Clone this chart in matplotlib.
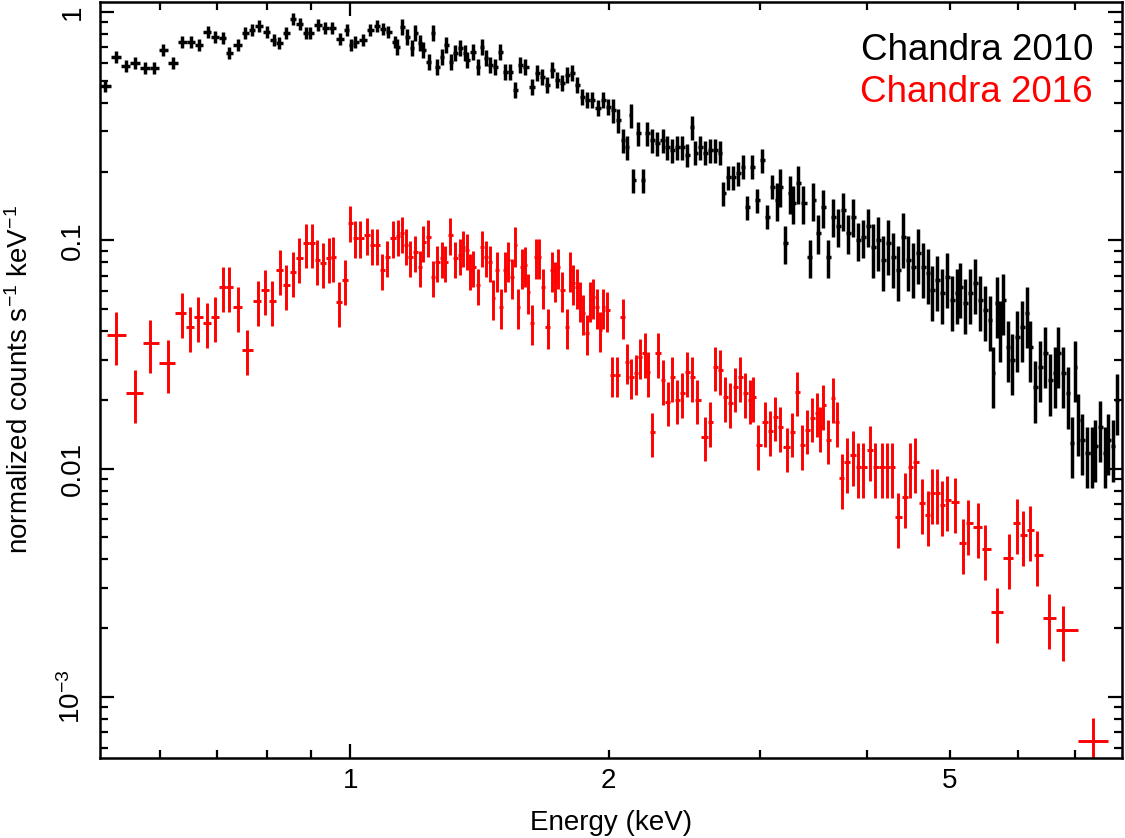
import numpy as np
import matplotlib
matplotlib.use('Agg')
import matplotlib.pyplot as plt
from matplotlib.ticker import FixedLocator, FixedFormatter, FuncFormatter

# Chandra 2010 spectrum: bin energy (keV), normalized counts, relative error
black_e = [0.518, 0.534, 0.548, 0.561, 0.577, 0.591, 0.605, 0.622, 0.637, 0.653,
           0.667, 0.682, 0.696, 0.710, 0.723, 0.739, 0.755, 0.769, 0.782, 0.799,
           0.814, 0.827, 0.842, 0.858, 0.873, 0.887, 0.898, 0.918, 0.935, 0.953,
           0.973, 0.992, 1.003, 1.013, 1.035, 1.055, 1.075, 1.092, 1.107, 1.128,
           1.134, 1.150, 1.166, 1.181, 1.191, 1.207, 1.216, 1.236, 1.249, 1.263,
           1.280, 1.294, 1.311, 1.325, 1.343, 1.361, 1.369, 1.391, 1.410, 1.424,
           1.440, 1.456, 1.475, 1.495, 1.515, 1.536, 1.557, 1.578, 1.599, 1.630,
           1.651, 1.673, 1.696, 1.719, 1.742, 1.766, 1.790, 1.814, 1.839, 1.863,
           1.889, 1.914, 1.945, 1.972, 1.999, 2.025, 2.053, 2.080, 2.103, 2.125,
           2.136, 2.165, 2.195, 2.218, 2.248, 2.278, 2.316, 2.341, 2.373, 2.405,
           2.437, 2.470, 2.503, 2.524, 2.557, 2.592, 2.627, 2.662, 2.698, 2.720,
           2.756, 2.794, 2.832, 2.870, 2.901, 2.940, 2.980, 3.020, 3.061, 3.103,
           3.145, 3.169, 3.212, 3.256, 3.282, 3.327, 3.371, 3.435, 3.463, 3.510,
           3.557, 3.605, 3.653, 3.703, 3.753, 3.804, 3.855, 3.907, 3.960, 4.013,
           4.068, 4.123, 4.179, 4.235, 4.291, 4.349, 4.408, 4.468, 4.528, 4.589,
           4.651, 4.714, 4.766, 4.830, 4.895, 4.961, 5.028, 5.096, 5.137, 5.206,
           5.277, 5.348, 5.420, 5.493, 5.568, 5.613, 5.674, 5.719, 5.765, 5.843,
           5.907, 5.987, 6.068, 6.150, 6.199, 6.283, 6.367, 6.453, 6.541, 6.629,
           6.682, 6.772, 6.864, 6.938, 6.994, 7.051, 7.127, 7.224, 7.321, 7.380,
           7.480, 7.581, 7.642, 7.745, 7.829]
black_y = [0.474, 0.636, 0.580, 0.598, 0.569, 0.569, 0.682, 0.598, 0.739, 0.739,
           0.717, 0.817, 0.777, 0.769, 0.662, 0.717, 0.809, 0.834, 0.869, 0.817,
           0.754, 0.732, 0.809, 0.932, 0.886, 0.809, 0.809, 0.878, 0.851, 0.851,
           0.762, 0.834, 0.717, 0.739, 0.754, 0.834, 0.869, 0.842, 0.817, 0.739,
           0.703, 0.860, 0.777, 0.696, 0.809, 0.732, 0.682, 0.604, 0.809, 0.574,
           0.636, 0.717, 0.604, 0.662, 0.696, 0.662, 0.616, 0.668, 0.574, 0.703,
           0.630, 0.586, 0.574, 0.668, 0.546, 0.546, 0.456, 0.586, 0.574, 0.470,
           0.540, 0.519, 0.479, 0.557, 0.504, 0.489, 0.530, 0.540, 0.479, 0.425,
           0.412, 0.412, 0.380, 0.412, 0.384, 0.372, 0.337, 0.275, 0.256, 0.354,
           0.184, 0.295, 0.184, 0.295, 0.275, 0.267, 0.275, 0.256, 0.249, 0.256,
           0.256, 0.237, 0.314, 0.242, 0.256, 0.242, 0.249, 0.249, 0.242, 0.161,
           0.189, 0.189, 0.197, 0.210, 0.140, 0.210, 0.150, 0.225, 0.127, 0.172,
           0.150, 0.172, 0.097, 0.161, 0.146, 0.178, 0.146, 0.0845, 0.150, 0.108,
           0.140, 0.0845, 0.127, 0.115, 0.136, 0.108, 0.127, 0.100, 0.1035, 0.115,
           0.0932, 0.100, 0.0819, 0.097, 0.0845, 0.0740, 0.1035, 0.0819, 0.0763, 0.0879,
           0.0763, 0.0718, 0.0605, 0.0669, 0.0587, 0.0690, 0.0547, 0.0587, 0.0624, 0.0531,
           0.0587, 0.0649, 0.0547, 0.0495, 0.0447, 0.0262, 0.0531, 0.0417, 0.0547, 0.0341,
           0.0299, 0.0377, 0.0417, 0.0480, 0.0341, 0.0227, 0.0279, 0.0321, 0.0244, 0.0262,
           0.0321, 0.0262, 0.0214, 0.0130, 0.0279, 0.0163, 0.0134, 0.0117, 0.0117, 0.0125,
           0.0152, 0.0117, 0.0134, 0.0125, 0.0200]
black_err = [0.06, 0.06, 0.06, 0.06, 0.06, 0.06, 0.06, 0.06, 0.06, 0.06,
             0.06, 0.06, 0.06, 0.06, 0.06, 0.06, 0.06, 0.06, 0.06, 0.06,
             0.06, 0.06, 0.06, 0.06, 0.06, 0.06, 0.06, 0.06, 0.06, 0.06,
             0.06, 0.06, 0.06, 0.06, 0.06, 0.06, 0.06, 0.06, 0.06, 0.06,
             0.08, 0.08, 0.08, 0.08, 0.08, 0.08, 0.08, 0.08, 0.08, 0.08,
             0.08, 0.08, 0.08, 0.08, 0.08, 0.08, 0.08, 0.08, 0.08, 0.08,
             0.08, 0.08, 0.08, 0.08, 0.08, 0.08, 0.08, 0.08, 0.08, 0.08,
             0.08, 0.08, 0.08, 0.08, 0.08, 0.08, 0.08, 0.08, 0.08, 0.08,
             0.08, 0.08, 0.08, 0.08, 0.08, 0.12, 0.12, 0.12, 0.12, 0.12,
             0.12, 0.12, 0.12, 0.12, 0.12, 0.12, 0.12, 0.12, 0.12, 0.12,
             0.12, 0.12, 0.12, 0.12, 0.12, 0.12, 0.12, 0.12, 0.12, 0.12,
             0.12, 0.12, 0.12, 0.12, 0.12, 0.12, 0.12, 0.12, 0.12, 0.12,
             0.19, 0.19, 0.19, 0.19, 0.19, 0.19, 0.19, 0.19, 0.19, 0.19,
             0.19, 0.19, 0.19, 0.19, 0.19, 0.19, 0.19, 0.19, 0.19, 0.19,
             0.27, 0.27, 0.27, 0.27, 0.27, 0.27, 0.27, 0.27, 0.27, 0.27,
             0.27, 0.27, 0.27, 0.27, 0.27, 0.27, 0.27, 0.27, 0.27, 0.27,
             0.27, 0.27, 0.27, 0.27, 0.27, 0.30, 0.30, 0.30, 0.30, 0.30,
             0.30, 0.30, 0.30, 0.30, 0.30, 0.30, 0.30, 0.30, 0.30, 0.30,
             0.30, 0.30, 0.30, 0.30, 0.30, 0.30, 0.30, 0.30, 0.30, 0.30,
             0.30, 0.30, 0.30, 0.30, 0.30]

# Chandra 2016 spectrum
red_e = [0.534, 0.561, 0.585, 0.614, 0.637, 0.651, 0.665, 0.681, 0.696, 0.710,
         0.723, 0.739, 0.759, 0.780, 0.796, 0.811, 0.829, 0.842, 0.858, 0.872,
         0.889, 0.903, 0.915, 0.930, 0.945, 0.955, 0.971, 0.987, 1.000, 1.013,
         1.027, 1.046, 1.061, 1.075, 1.090, 1.104, 1.122, 1.137, 1.150, 1.160,
         1.175, 1.191, 1.207, 1.216, 1.233, 1.249, 1.263, 1.280, 1.290, 1.308,
         1.325, 1.343, 1.353, 1.369, 1.380, 1.391, 1.410, 1.424, 1.440, 1.456,
         1.467, 1.483, 1.499, 1.515, 1.527, 1.544, 1.557, 1.570, 1.587, 1.599,
         1.612, 1.630, 1.646, 1.659, 1.676, 1.700, 1.719, 1.733, 1.747, 1.766,
         1.790, 1.804, 1.819, 1.839, 1.853, 1.869, 1.889, 1.904, 1.919, 1.940,
         1.956, 1.972, 1.993, 2.019, 2.047, 2.080, 2.102, 2.125, 2.153, 2.177,
         2.204, 2.221, 2.249, 2.284, 2.316, 2.343, 2.373, 2.405, 2.437, 2.470,
         2.503, 2.536, 2.592, 2.627, 2.662, 2.698, 2.734, 2.772, 2.809, 2.847,
         2.886, 2.924, 2.948, 2.988, 3.045, 3.086, 3.128, 3.169, 3.227, 3.273,
         3.316, 3.361, 3.406, 3.453, 3.500, 3.528, 3.557, 3.605, 3.653, 3.687,
         3.740, 3.790, 3.855, 3.907, 3.960, 4.035, 4.090, 4.167, 4.223, 4.280,
         4.349, 4.430, 4.492, 4.553, 4.640, 4.714, 4.766, 4.830, 4.895, 4.961,
         5.069, 5.178, 5.249, 5.390, 5.493, 5.674, 5.859, 5.987, 6.084, 6.199,
         6.316, 6.523, 6.772, 7.342]
red_y = [0.0385, 0.0214, 0.0355, 0.0290, 0.0480, 0.0417, 0.0461, 0.0434, 0.0461, 0.0624,
         0.0624, 0.0510, 0.0331, 0.0542, 0.0605, 0.0542, 0.0740, 0.0636, 0.0725, 0.0836,
         0.0970, 0.0970, 0.0819, 0.0794, 0.0836, 0.0845, 0.0536, 0.0669, 0.1193, 0.1025,
         0.1025, 0.1056, 0.0951, 0.0951, 0.0740, 0.0845, 0.1025, 0.1040, 0.1077, 0.0951,
         0.0845, 0.0888, 0.0763, 0.0980, 0.1035, 0.0690, 0.0803, 0.0836, 0.0803, 0.1056,
         0.0836, 0.0862, 0.0932, 0.0906, 0.0740, 0.0763, 0.0636, 0.0932, 0.0845, 0.0803,
         0.0558, 0.0740, 0.0510, 0.0740, 0.0819, 0.0690, 0.0951, 0.0510, 0.0763, 0.0779,
         0.0593, 0.0434, 0.0845, 0.0845, 0.0624, 0.0417, 0.0740, 0.0669, 0.0763, 0.0605,
         0.0417, 0.0740, 0.0649, 0.0624, 0.0547, 0.0480, 0.0393, 0.0547, 0.0564, 0.0510,
         0.0405, 0.0510, 0.0495, 0.0257, 0.0257, 0.0461, 0.0293, 0.0252, 0.0262, 0.0308,
         0.0321, 0.0265, 0.0144, 0.0321, 0.0244, 0.0196, 0.0252, 0.0200, 0.0214, 0.0265,
         0.0252, 0.0200, 0.0138, 0.0160, 0.0279, 0.0270, 0.0206, 0.0194, 0.0227, 0.0252,
         0.0214, 0.0200, 0.0206, 0.0127, 0.0160, 0.0146, 0.0169, 0.0152, 0.0124, 0.0144,
         0.0217, 0.0127, 0.0148, 0.0167, 0.0176, 0.0152, 0.0190, 0.0134, 0.0204, 0.0160,
         0.00912, 0.0107, 0.0115, 0.0102, 0.0102, 0.0121, 0.0102, 0.0102, 0.0102, 0.0102,
         0.00615, 0.00753, 0.0102, 0.0107, 0.00708, 0.00628, 0.00784, 0.00784, 0.00694, 0.0073,
         0.00716, 0.00473, 0.00575, 0.00556, 0.00446, 0.00236, 0.00407, 0.00579, 0.00514, 0.00540,
         0.00419, 0.00222, 0.00197, 0.000639]
red_err = [0.26, 0.26, 0.26, 0.26, 0.22, 0.22, 0.22, 0.22, 0.22, 0.22,
           0.22, 0.22, 0.22, 0.22, 0.22, 0.22, 0.22, 0.22, 0.22, 0.22,
           0.22, 0.22, 0.22, 0.22, 0.22, 0.22, 0.22, 0.22, 0.18, 0.18,
           0.18, 0.18, 0.18, 0.18, 0.18, 0.18, 0.18, 0.18, 0.18, 0.18,
           0.18, 0.18, 0.18, 0.18, 0.18, 0.18, 0.18, 0.18, 0.18, 0.18,
           0.18, 0.18, 0.18, 0.18, 0.18, 0.18, 0.18, 0.18, 0.18, 0.18,
           0.20, 0.20, 0.20, 0.20, 0.20, 0.20, 0.20, 0.20, 0.20, 0.20,
           0.20, 0.20, 0.20, 0.20, 0.20, 0.20, 0.20, 0.20, 0.20, 0.20,
           0.20, 0.20, 0.20, 0.20, 0.20, 0.20, 0.20, 0.20, 0.20, 0.20,
           0.20, 0.20, 0.20, 0.20, 0.20, 0.20, 0.20, 0.20, 0.20, 0.20,
           0.22, 0.22, 0.22, 0.22, 0.22, 0.22, 0.22, 0.22, 0.22, 0.22,
           0.22, 0.22, 0.22, 0.22, 0.22, 0.22, 0.22, 0.22, 0.22, 0.22,
           0.22, 0.22, 0.22, 0.22, 0.22, 0.22, 0.22, 0.22, 0.22, 0.22,
           0.22, 0.22, 0.22, 0.22, 0.22, 0.22, 0.22, 0.22, 0.22, 0.22,
           0.27, 0.27, 0.27, 0.27, 0.27, 0.27, 0.27, 0.27, 0.27, 0.27,
           0.27, 0.27, 0.27, 0.27, 0.27, 0.27, 0.27, 0.27, 0.27, 0.27,
           0.27, 0.27, 0.27, 0.27, 0.27, 0.27, 0.27, 0.27, 0.27, 0.27,
           0.27, 0.27, 0.27, 0.27]

x_minor = [0.6, 0.7, 0.8, 0.9, 2, 3, 4, 5, 6, 7]
y_major = [1e-3, 1e-2, 0.1, 1]
y_labels = ['$10^{-3}$', '0.01', '0.1', '1']

plt.rcParams['font.family'] = ['Liberation Sans', 'DejaVu Sans']
plt.rcParams['mathtext.default'] = 'regular'


def bin_xerr(e):
    # contiguous bins: edges halfway (in log) between neighbouring channels
    e = np.asarray(e)
    mid = np.sqrt(e[:-1] * e[1:])
    lo = np.concatenate([[e[0] ** 2 / mid[0]], mid])
    hi = np.concatenate([mid, [e[-1] ** 2 / mid[-1]]])
    return np.vstack([e - lo, hi - e])


fig = plt.figure(figsize=(11.25, 8.38), dpi=100)
ax = fig.add_axes([0.0889, 0.0955, 0.9084, 0.9021])
ax.set_xscale('log')
ax.set_yscale('log')

for e, y, err, col, lw in [(black_e, black_y, black_err, 'black', 2.5),
                           (red_e, red_y, red_err, 'red', 2.1)]:
    y = np.asarray(y)
    ax.errorbar(e, y, xerr=bin_xerr(e), yerr=y * np.asarray(err),
                fmt='none', ecolor=col, elinewidth=lw, capsize=0)

ax.set_xlim(0.511, 7.93)
ax.set_ylim(5.4e-4, 1.106)

ax.xaxis.set_major_locator(FixedLocator([1]))
ax.xaxis.set_major_formatter(FixedFormatter(['1']))
ax.xaxis.set_minor_locator(FixedLocator(x_minor))
ax.xaxis.set_minor_formatter(FuncFormatter(
    lambda v, p: '%g' % v if round(v, 3) in (2, 5) else ''))

ax.yaxis.set_major_locator(FixedLocator(y_major))
ax.yaxis.set_major_formatter(FixedFormatter(y_labels))
ax.yaxis.set_minor_locator(FixedLocator(
    [m * 10.0 ** k for k in (-4, -3, -2, -1, 0) for m in range(2, 10)]))

ax.tick_params(which='both', direction='in', top=True, right=True, width=1.6)
ax.tick_params(which='major', length=10)
ax.tick_params(which='minor', length=5.5)
ax.tick_params(axis='x', which='both', labelsize=20, pad=7)
ax.tick_params(axis='y', which='both', labelsize=20, pad=10, labelrotation=90)
for lab in ax.get_yticklabels():
    lab.set_va('center')
for s in ax.spines.values():
    s.set_linewidth(1.8)

ax.text(0.9716, 0.923, 'Chandra 2010', transform=ax.transAxes, ha='right',
        va='baseline', fontsize=26.5, color='black')
ax.text(0.9716, 0.868, 'Chandra 2016', transform=ax.transAxes, ha='right',
        va='baseline', fontsize=26.5, color='red')

fig.text(0.018, 0.547, 'normalized counts s$^{-1}$ keV$^{-1}$', rotation=90,
         ha='center', va='center', fontsize=20)
fig.text(0.543, 0.0095, 'Energy (keV)', ha='center', va='baseline', fontsize=20)

fig.savefig('out.png', dpi=100)
